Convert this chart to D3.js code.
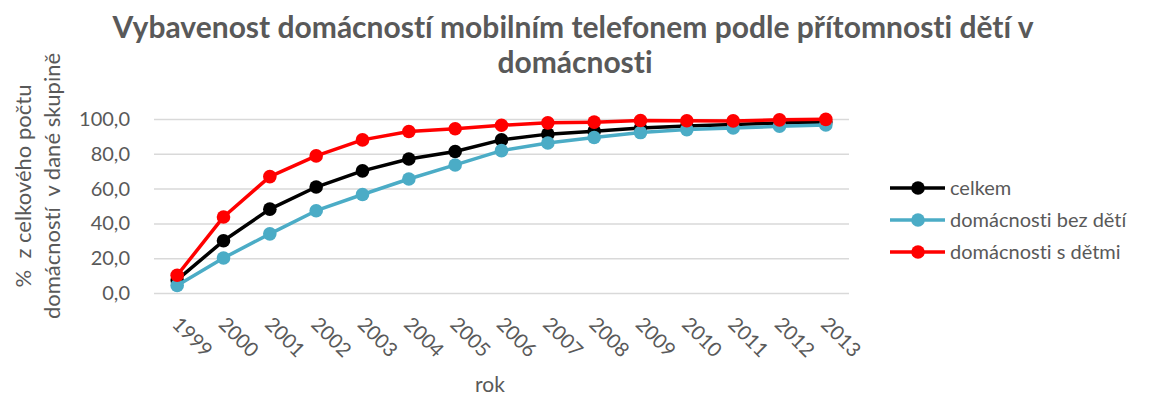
<!DOCTYPE html>
<html>
<head>
<meta charset="utf-8">
<title>Vybavenost domácností mobilním telefonem</title>
<script src="https://cdn.jsdelivr.net/npm/d3@7"></script>
<style>
    body { margin: 0; background: #ffffff; }
    svg { display: block; }
    text { font-family: Lato, "Open Sans", sans-serif; fill: #595959; white-space: pre;
           font-variant-ligatures: none; font-feature-settings: "liga" 0; }
</style>
</head>
<body>
<svg id="chart" width="1149" height="400"></svg>
<script>
// data
var years = ["1999", "2000", "2001", "2002", "2003", "2004", "2005", "2006",
             "2007", "2008", "2009", "2010", "2011", "2012", "2013"];
var celkem =   [7.5, 30.0, 48.2, 60.9, 70.2, 77.0, 81.3, 88.0, 91.3, 93.0, 94.8, 96.0, 96.9, 97.7, 98.3];
var bezDeti =  [4.3, 20.1, 34.0, 47.3, 56.6, 65.5, 73.6, 81.8, 86.2, 89.4, 92.2, 93.9, 94.8, 95.8, 96.6];
var sDetmi =   [10.2, 43.7, 66.9, 78.8, 88.0, 92.8, 94.4, 96.4, 97.8, 98.2, 99.1, 99.0, 98.9, 99.5, 99.8];
var seriesNames = ["celkem", "domácnosti bez dětí", "domácnosti s dětmi"];
var seriesColors = ["#000000", "#4bacc6", "#ff0000"];
var yTicks = [0, 20, 40, 60, 80, 100];

var allSeries = [celkem, bezDeti, sDetmi];

var svg = d3.select("#chart");

// plot area
var plotLeft = 154, plotRight = 849, plotTop = 119, plotBottom = 293;

var x = d3.scalePoint()
    .domain(years)
    .range([plotLeft, plotRight])
    .padding(0.5);

var y = d3.scaleLinear()
    .domain([0, 100])
    .range([plotBottom, plotTop]);

var fmt = function(d) { return d3.format(".1f")(d).replace(".", ","); };

// title
svg.append("text")
    .attr("x", 573)
    .attr("y", 38)
    .attr("text-anchor", "middle")
    .style("font-size", "30px")
    .style("font-weight", "bold")
    .text("Vybavenost domácností mobilním telefonem podle přítomnosti dětí v");
svg.append("text")
    .attr("x", 575)
    .attr("y", 73)
    .attr("text-anchor", "middle")
    .style("font-size", "30px")
    .style("font-weight", "bold")
    .text("domácnosti");

// gridlines + y labels
var yAxis = svg.append("g")
    .attr("transform", "translate(" + plotLeft + ",0)")
    .call(d3.axisLeft(y).tickValues(yTicks).tickSize(-(plotRight - plotLeft)).tickFormat(fmt));
yAxis.select(".domain").remove();
yAxis.selectAll(".tick line")
    .attr("stroke", "#d9d9d9")
    .attr("stroke-width", 1.5);
yAxis.selectAll(".tick text")
    .attr("x", -24)
    .style("font-size", "20px")
    .style("font-family", "Lato, 'Open Sans', sans-serif")
    .attr("fill", "#595959");

// x labels
var xAxis = svg.append("g")
    .attr("transform", "translate(0," + plotBottom + ")")
    .call(d3.axisBottom(x).tickSize(0).tickFormat(function(d) { return d; }));
xAxis.select(".domain").remove();
xAxis.selectAll(".tick text")
    .attr("x", 0)
    .attr("y", 0)
    .attr("dy", "0.75em")
    .attr("text-anchor", "start")
    .attr("transform", "translate(4,22) rotate(45)")
    .style("font-size", "20px")
    .style("font-family", "Lato, 'Open Sans', sans-serif")
    .attr("fill", "#595959");

// axis titles
svg.append("text")
    .attr("x", 490)
    .attr("y", 392)
    .attr("text-anchor", "middle")
    .style("font-size", "21px")
    .text("rok");

var yTitle = svg.append("text")
    .attr("transform", "translate(0,186) rotate(-90)")
    .attr("text-anchor", "middle")
    .style("font-size", "22px");
yTitle.append("tspan").attr("x", 0).attr("y", 31).text("%  z celkového počtu");
yTitle.append("tspan").attr("x", 0).attr("y", 60).text("domácností  v dané skupině");

// series
var line = d3.line()
    .x(function(d, i) { return x(years[i]); })
    .y(function(d) { return y(d); });

allSeries.forEach(function(values, s) {
    var g = svg.append("g");
    g.append("path")
        .datum(values)
        .attr("d", line)
        .attr("fill", "none")
        .attr("stroke", seriesColors[s])
        .attr("stroke-width", 3.5)
        .attr("stroke-linejoin", "round");
    g.selectAll("circle")
        .data(values)
        .enter().append("circle")
        .attr("cx", function(d, i) { return x(years[i]); })
        .attr("cy", function(d) { return y(d); })
        .attr("r", 6.8)
        .attr("fill", seriesColors[s]);
});

// legend
var legend = svg.append("g");
seriesNames.forEach(function(name, s) {
    var ly = 188 + s * 32;
    legend.append("line")
        .attr("x1", 890).attr("x2", 945)
        .attr("y1", ly).attr("y2", ly)
        .attr("stroke", seriesColors[s])
        .attr("stroke-width", 3.5);
    legend.append("circle")
        .attr("cx", 918).attr("cy", ly)
        .attr("r", 6.8)
        .attr("fill", seriesColors[s]);
    legend.append("text")
        .attr("x", 950).attr("y", ly)
        .attr("dy", "0.35em")
        .style("font-size", "20px")
        .text(name);
});
</script>
</body>
</html>
